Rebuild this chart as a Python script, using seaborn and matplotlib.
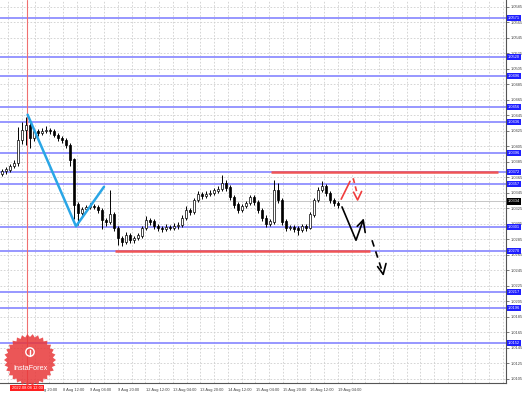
import numpy as np
import pandas as pd
import matplotlib
matplotlib.use("Agg")
import matplotlib.pyplot as plt
import matplotlib.transforms as mtrans
from matplotlib.patches import Polygon, Circle
import seaborn as sns

# ---------------- data ----------------
open_first = 1.0370
close = [1.0373, 1.0375, 1.0380, 1.0384, 1.0413, 1.0426, 1.0432, 1.0416, 1.0425, 1.0423,
         1.0425, 1.0426, 1.0425, 1.0420, 1.0416, 1.0413, 1.0407, 1.0388, 1.0330, 1.0319,
         1.0324, 1.0327, 1.0328, 1.0327, 1.0323, 1.0310, 1.0308, 1.0317, 1.0300, 1.0287,
         1.0282, 1.0290, 1.0284, 1.0287, 1.0290, 1.0300, 1.0310, 1.0308, 1.0302, 1.0300,
         1.0299, 1.0301, 1.0300, 1.0302, 1.0304, 1.0313, 1.0323, 1.0321, 1.0336, 1.0343,
         1.0341, 1.0344, 1.0345, 1.0348, 1.0350, 1.0358, 1.0352, 1.0340, 1.0330, 1.0323,
         1.0328, 1.0332, 1.0339, 1.0333, 1.0323, 1.0313, 1.0305, 1.0308, 1.0349, 1.0336,
         1.0308, 1.0300, 1.0301, 1.0299, 1.0297, 1.0302, 1.0300, 1.0317, 1.0336, 1.0349,
         1.0354, 1.0345, 1.0336, 1.0332, 1.0329]
high = [1.0376, 1.0378, 1.0383, 1.0387, 1.0430, 1.0436, 1.0443, 1.0436, 1.0428, 1.0428,
        1.0429, 1.0431, 1.0429, 1.0428, 1.0423, 1.0419, 1.0416, 1.0410, 1.0390, 1.0333,
        1.0327, 1.0330, 1.0332, 1.0331, 1.0330, 1.0325, 1.0313, 1.0349, 1.0320, 1.0303,
        1.0290, 1.0294, 1.0293, 1.0290, 1.0293, 1.0303, 1.0315, 1.0313, 1.0311, 1.0305,
        1.0303, 1.0305, 1.0304, 1.0306, 1.0308, 1.0316, 1.0328, 1.0326, 1.0339, 1.0347,
        1.0346, 1.0348, 1.0349, 1.0351, 1.0354, 1.0368, 1.0362, 1.0355, 1.0343, 1.0333,
        1.0331, 1.0335, 1.0343, 1.0342, 1.0336, 1.0326, 1.0316, 1.0312, 1.0362, 1.0358,
        1.0339, 1.0311, 1.0304, 1.0304, 1.0302, 1.0305, 1.0305, 1.0320, 1.0339, 1.0353,
        1.0360, 1.0357, 1.0348, 1.0339, 1.0335]
low = [1.0367, 1.0370, 1.0372, 1.0377, 1.0380, 1.0408, 1.0407, 1.0403, 1.0412, 1.0419,
       1.0420, 1.0422, 1.0421, 1.0417, 1.0412, 1.0409, 1.0403, 1.0380, 1.0311, 1.0304,
       1.0316, 1.0321, 1.0324, 1.0324, 1.0319, 1.0299, 1.0303, 1.0305, 1.0296, 1.0278,
       1.0276, 1.0279, 1.0281, 1.0280, 1.0284, 1.0287, 1.0297, 1.0304, 1.0298, 1.0296,
       1.0295, 1.0296, 1.0297, 1.0297, 1.0299, 1.0301, 1.0310, 1.0317, 1.0318, 1.0333,
       1.0337, 1.0338, 1.0341, 1.0342, 1.0345, 1.0347, 1.0348, 1.0336, 1.0326, 1.0319,
       1.0320, 1.0325, 1.0329, 1.0330, 1.0319, 1.0309, 1.0301, 1.0302, 1.0305, 1.0332,
       1.0304, 1.0296, 1.0297, 1.0295, 1.0291, 1.0294, 1.0296, 1.0298, 1.0314, 1.0333,
       1.0346, 1.0341, 1.0332, 1.0328, 1.0326]

blue_levels = [1.0571, 1.0520, 1.0496, 1.0456, 1.0436, 1.0396, 1.0372, 1.0357,
               1.0301, 1.0270, 1.0217, 1.0196, 1.0152]
red_levels = [1.0372, 1.0270]
red_level_start = [67.3, 28.3]
red_level_end = [124.0, 92.0]
current_price = 1.0334

zigzag_x = [6.4, 18.5, 25.5]
zigzag_y = [1.0446, 1.0302, 1.0353]
period_sep_x = 6.25

black_arrow_x = [85.0, 88.5, 90.3]
black_arrow_y = [1.0327, 1.0284, 1.0310]
black_head_x = [88.8, 90.3, 90.8]
black_head_y = [1.0302, 1.0310, 1.0294]
dash_arrow_x = [92.5, 95.3]
dash_arrow_y = [1.0284, 1.0240]
dash_head_x = [93.9, 95.3, 96.0]
dash_head_y = [1.0250, 1.0240, 1.0254]
red_arrow_x = [84.8, 87.0]
red_arrow_y = [1.0337, 1.0360]
red_dash_x = [87.8, 88.8]
red_dash_y = [1.0364, 1.0344]
red_head_x = [87.9, 88.9, 89.9]
red_head_y = [1.0346, 1.0336, 1.0347]

price_ticks = [round(1.0585 - 0.002 * k, 4) for k in range(25)]
date_labels = ["7 Aug 20:00", "8 Aug 12:00", "9 Aug 04:00", "9 Aug 20:00", "12 Aug 12:00",
               "13 Aug 04:00", "13 Aug 20:00", "14 Aug 12:00", "15 Aug 04:00",
               "15 Aug 20:00", "16 Aug 12:00", "19 Aug 04:00"]
date_tick_pos = [8.4, 15.25, 22.1, 29.0, 35.9, 42.75, 49.6, 56.5, 63.4, 70.25, 77.1, 84.0]
sep_label = "2022.08.08 12:00"

# ---------------- figure ----------------
sns.set_style("white")
plt.rcParams['font.family'] = ['Liberation Sans', 'DejaVu Sans']
fig = plt.figure(figsize=(5.25, 3.93), dpi=100)
ax = fig.add_axes([0, 10 / 393, 506 / 525, 383 / 393])
ax.set_xlim(-0.5, 126)
ax.set_ylim(1.00998, 1.05940)

FS = 2.9

# grid
for p in price_ticks:
    ax.axhline(p, color='#cfcfcf', lw=0.6, ls=(0, (2, 2)), zorder=0)
for k in range(37):
    ax.axvline((6 + 13.75 * k) / 4, color='#cfcfcf', lw=0.6, ls=(0, (2, 2)), zorder=0)

# blue levels
for lv in blue_levels:
    ax.axhline(lv, color='#8f8fff', lw=1.3, zorder=1)
# current price line
ax.axhline(current_price, color='#bdbdbd', lw=0.6, zorder=1)

# red horizontal levels
for lv, s, e in zip(red_levels, red_level_start, red_level_end):
    ax.plot([s, e], [lv, lv], color='#f05454', lw=1.8, zorder=3, solid_capstyle='butt')

# vertical period separator
ax.axvline(period_sep_x, color='#f07070', lw=0.8, zorder=2)

# candles
df = pd.DataFrame({'open': [open_first] + close[:-1], 'close': close,
                   'high': high, 'low': low})
df['t'] = np.arange(len(df))
ax.vlines(df['t'], df['low'], df['high'], color='black', lw=0.7, zorder=4)
bull = df['close'] >= df['open']
ax.bar(df['t'][bull], (df['close'] - df['open'])[bull] + 0.00003, bottom=df['open'][bull],
       width=0.55, color='white', edgecolor='black', lw=0.5, zorder=5)
ax.bar(df['t'][~bull], (df['open'] - df['close'])[~bull] + 0.00003, bottom=df['close'][~bull],
       width=0.55, color='black', edgecolor='black', lw=0.5, zorder=5)

# zigzag
zz = pd.DataFrame({'x': zigzag_x, 'y': zigzag_y})
sns.lineplot(data=zz, x='x', y='y', sort=False, color='#2aa6e6', lw=1.8, ax=ax, zorder=6)

# arrows
ax.plot(black_arrow_x, black_arrow_y, color='black', lw=1.2, zorder=6)
ax.plot(black_head_x, black_head_y, color='black', lw=1.2, zorder=6)
ax.plot(dash_arrow_x, dash_arrow_y, color='black', lw=1.2, ls=(0, (4, 3)), zorder=6)
ax.plot(dash_head_x, dash_head_y, color='black', lw=1.2, zorder=6)
ax.plot(red_arrow_x, red_arrow_y, color='#f03c3c', lw=1.2, zorder=6)
ax.plot(red_dash_x, red_dash_y, color='#f03c3c', lw=1.2, ls=(0, (3, 2)), zorder=6)
ax.plot(red_head_x, red_head_y, color='#f03c3c', lw=1.2, zorder=6)

# axes styling
for s in ['top', 'left']:
    ax.spines[s].set_visible(False)
for s in ['right', 'bottom']:
    ax.spines[s].set_color('#555555')
    ax.spines[s].set_linewidth(0.8)
ax.set_xlabel('')
ax.set_ylabel('')
ax.yaxis.tick_right()
ax.set_yticks(price_ticks)
ax.set_yticklabels([f"{p:.4f}" for p in price_ticks], fontsize=FS, color='#444444')
ax.tick_params(axis='y', length=2, width=0.5, pad=1.5, colors='#444444')
ax.set_xticks(date_tick_pos)
ax.set_xticklabels(date_labels, fontsize=FS, color='#444444', ha='left')
ax.tick_params(axis='x', length=2.5, width=0.5, pad=1.2, colors='#444444')

# level price labels
ytrans = mtrans.blended_transform_factory(ax.transAxes, ax.transData)
for lv in blue_levels:
    ax.text(1.003, lv, f"{lv:.4f}", transform=ytrans, fontsize=FS, color='white',
            va='center', ha='left', clip_on=False, zorder=10,
            bbox=dict(boxstyle='square,pad=0.25', fc='#1f1fff', ec='none'))
ax.text(1.003, current_price, f"{current_price:.4f}", transform=ytrans, fontsize=FS,
        color='white', va='center', ha='left', clip_on=False, zorder=10,
        bbox=dict(boxstyle='square,pad=0.25', fc='black', ec='none'))

# separator date label
xtrans = mtrans.blended_transform_factory(ax.transData, ax.transAxes)
ax.text(period_sep_x, -0.013, sep_label, transform=xtrans, fontsize=FS, color='white',
        ha='center', va='center', clip_on=False, zorder=10,
        bbox=dict(boxstyle='square,pad=0.3', fc='#ff2020', ec='none'))

# logo overlay (pixel coords)
ov = fig.add_axes([0, 0, 1, 1], facecolor='none')
ov.set_xlim(0, 525)
ov.set_ylim(393, 0)
ov.axis('off')
n = 30
ang = np.linspace(0, 2 * np.pi, 2 * n, endpoint=False)
rad = np.where(np.arange(2 * n) % 2 == 0, 26, 23)
pts = np.column_stack([30 + rad * np.cos(ang), 360 + rad * np.sin(ang)])
ov.add_patch(Polygon(pts, closed=True, fc='#e8383a', ec='none', alpha=0.85, zorder=1))
ov.add_patch(Circle((30, 352), 4.2, fc='none', ec='white', lw=1.0, zorder=2))
ov.plot([30, 30], [350, 356], color='white', lw=1.0, zorder=2)
ov.text(30, 368, "InstaForex", color='white', fontsize=5.2, ha='center', va='center', zorder=3)

fig.savefig("out.png", dpi=100, facecolor='white')
